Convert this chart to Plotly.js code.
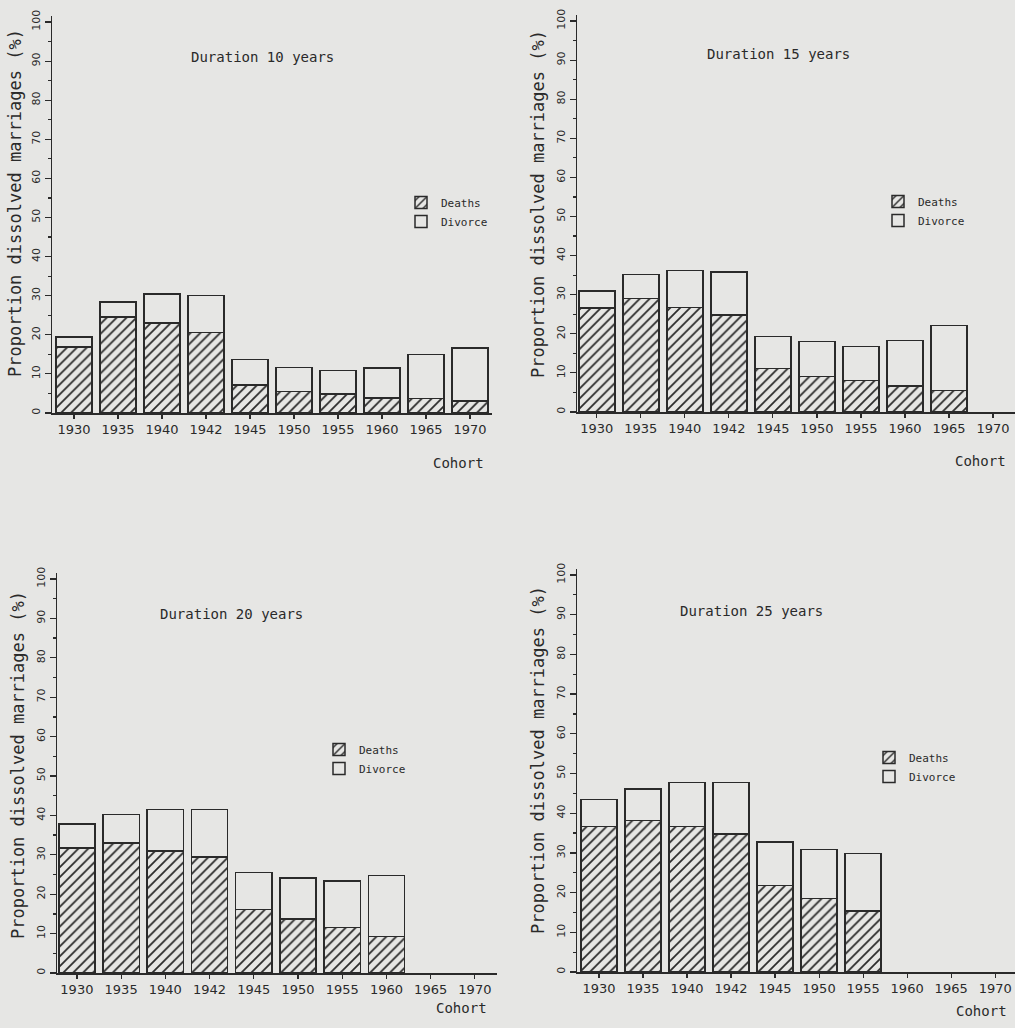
<!DOCTYPE html>
<html>
<head>
<meta charset="utf-8">
<script src="https://cdn.plot.ly/plotly-3.0.1.min.js"></script>
<style>
  html, body { margin: 0; padding: 0; background: #e6e6e4; }
  #chart { width: 1015px; height: 1028px; }
</style>
</head>
<body>
<div id="chart"></div>
<script>
// ---- data ----
const cohorts = ['1930','1935','1940','1942','1945','1950','1955','1960','1965','1970'];

const deaths10  = [16.9, 24.5, 23.0, 20.6, 7.1, 5.5, 4.9, 3.8, 3.7, 3.1];
const divorce10 = [2.5, 3.9, 7.5, 9.5, 6.6, 6.2, 6.0, 7.7, 11.2, 13.5];

const deaths15  = [26.6, 29.0, 26.7, 24.8, 11.1, 9.1, 8.0, 6.6, 5.5, null];
const divorce15 = [4.4, 6.2, 9.5, 11.0, 8.2, 8.9, 8.8, 11.7, 16.6, null];

const deaths20  = [31.7, 33.0, 31.0, 29.4, 16.1, 13.7, 11.6, 9.3, null, null];
const divorce20 = [6.1, 7.2, 10.5, 12.1, 9.4, 10.4, 11.8, 15.4, null, null];

const deaths25  = [36.7, 38.2, 36.7, 34.7, 21.8, 18.5, 15.4, null, null, null];
const divorce25 = [6.7, 7.9, 11.0, 13.0, 10.9, 12.3, 14.4, null, null, null];

const panelTitles = ['Duration 10 years', 'Duration 15 years', 'Duration 20 years', 'Duration 25 years'];
const yTickVals = [0,10,20,30,40,50,60,70,80,90,100];
const yTickText = ['0','10','20','30','40','50','60','70','80','90','100'];
const legendNames = ['Deaths', 'Divorce'];
const yTitleText = 'Proportion dissolved marriages (%)';
const xTitleText = 'Cohort';

// ---- styling ----
const W = 1015, H = 1028;
const PAPER = '#e6e6e4';
const INK = '#2a2a2a';
const MONO = '"DejaVu Sans Mono", "Liberation Mono", monospace';
const SANS = '"DejaVu Sans", "Liberation Sans", sans-serif';

const px = v => v / W;
const py = v => 1 - v / H;

const series = [
  [deaths10, divorce10],
  [deaths15, divorce15],
  [deaths20, divorce20],
  [deaths25, divorce25]
];

// panel geometry in pixels
const panels = [
  {x0: 52,  x1: 492,  yTop: 16,  y0: 413, xr: [-0.5, 9.5]},
  {x0: 577, x1: 1015, yTop: 15,  y0: 412, xr: [-0.45, 9.5]},
  {x0: 57,  x1: 497,  yTop: 573, y0: 973, xr: [-0.45, 9.5]},
  {x0: 577, x1: 1015, yTop: 569, y0: 972, xr: [-0.5, 9.45]}
];
const titlePos  = [[262, 57], [778, 54], [231, 614], [751, 611]];
const yTitlePos = [[15, 203], [538, 204], [18, 765], [538, 760]];
const cohortPos = [[458, 463], [980, 461], [461, 1008], [981, 1011]];
const legendPos = [[401, 188], [878, 187], [319, 735], [869, 743]];

const traces = [];
const layout = {
  width: W, height: H,
  margin: {l: 0, r: 0, t: 0, b: 0},
  paper_bgcolor: PAPER,
  plot_bgcolor: PAPER,
  barmode: 'stack',
  bargap: 0.18,
  showlegend: true,
  annotations: [],
  font: {family: SANS, color: INK}
};

panels.forEach((p, i) => {
  const n = i === 0 ? '' : String(i + 1);
  const xa = 'x' + n, ya = 'y' + n;
  const legendId = 'legend' + n;
  const [d, v] = series[i];

  traces.push({
    type: 'bar', x: cohorts, y: d, name: legendNames[0],
    xaxis: xa, yaxis: ya, legend: legendId,
    marker: {
      color: PAPER,
      line: {color: INK, width: 1.5},
      pattern: {shape: '/', fgcolor: INK, bgcolor: PAPER, size: 7, solidity: 0.25}
    },
    hoverinfo: 'skip'
  });
  traces.push({
    type: 'bar', x: cohorts, y: v, name: legendNames[1],
    xaxis: xa, yaxis: ya, legend: legendId,
    marker: {color: PAPER, line: {color: INK, width: 1.5}},
    hoverinfo: 'skip'
  });

  layout['xaxis' + n] = {
    domain: [px(p.x0), Math.min(1, px(p.x1))],
    anchor: ya,
    type: 'category',
    categoryorder: 'array', categoryarray: cohorts,
    range: p.xr,
    showline: true, linecolor: INK, linewidth: 1.5,
    showgrid: false, zeroline: false,
    ticks: 'outside', ticklen: 4, tickcolor: INK, tickwidth: 1.2,
    tickfont: {family: SANS, size: 13, color: INK},
    fixedrange: true
  };
  layout['yaxis' + n] = {
    domain: [py(p.y0), py(p.yTop)],
    anchor: xa,
    range: [0, 100 * (p.y0 - p.yTop) / (p.y0 - (p.yTop + 6))],
    showline: true, linecolor: INK, linewidth: 1.5,
    showgrid: false, zeroline: false,
    tickmode: 'array', tickvals: yTickVals, ticktext: yTickText,
    ticks: 'outside', ticklen: 6, tickcolor: INK, tickwidth: 1.2,
    minor: {dtick: 5, tick0: 0, ticks: 'outside', ticklen: 3, tickcolor: INK, tickwidth: 1.2, showgrid: false},
    tickangle: -90,
    tickfont: {family: SANS, size: 11, color: INK},
    fixedrange: true
  };
  layout[legendId] = {
    x: px(legendPos[i][0]), y: py(legendPos[i][1]),
    xanchor: 'left', yanchor: 'top',
    bgcolor: 'rgba(0,0,0,0)', borderwidth: 0,
    font: {family: MONO, size: 11, color: INK},
    traceorder: 'normal', itemwidth: 30,
    tracegroupgap: 0
  };

  layout.annotations.push({
    xref: 'paper', yref: 'paper', x: px(titlePos[i][0]), y: py(titlePos[i][1]),
    xanchor: 'center', yanchor: 'middle', showarrow: false,
    text: panelTitles[i], font: {family: MONO, size: 14, color: INK}
  });
  layout.annotations.push({
    xref: 'paper', yref: 'paper', x: px(yTitlePos[i][0]), y: py(yTitlePos[i][1]),
    xanchor: 'center', yanchor: 'middle', showarrow: false, textangle: -90,
    text: yTitleText, font: {family: MONO, size: 17, color: INK}
  });
  layout.annotations.push({
    xref: 'paper', yref: 'paper', x: px(cohortPos[i][0]), y: py(cohortPos[i][1]),
    xanchor: 'center', yanchor: 'middle', showarrow: false,
    text: xTitleText, font: {family: MONO, size: 14, color: INK}
  });
});

Plotly.newPlot('chart', traces, layout, {displayModeBar: false, staticPlot: true});
</script>
</body>
</html>
